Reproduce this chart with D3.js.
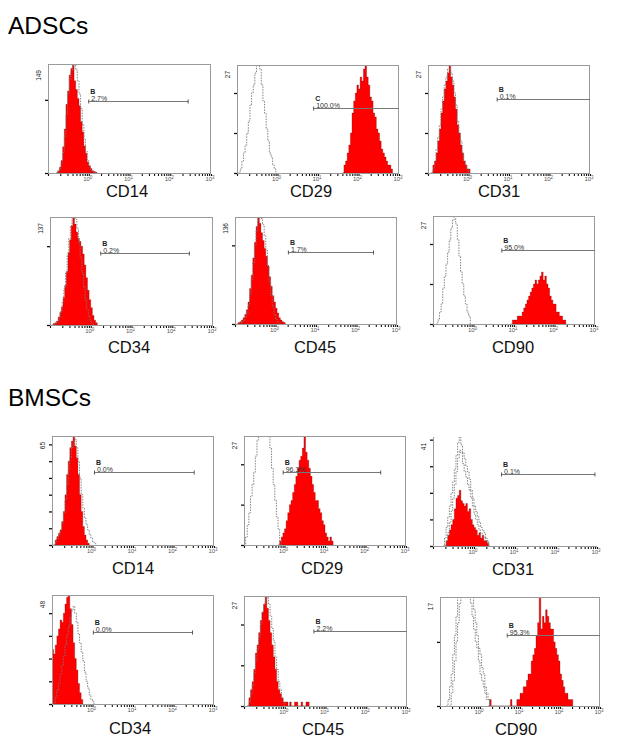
<!DOCTYPE html>
<html><head><meta charset="utf-8">
<script src="https://cdn.jsdelivr.net/npm/d3@7"></script>
<style>body{margin:0;background:#fff}svg{display:block;font-family:"Liberation Sans",Arial,sans-serif}</style>
</head><body><svg id="c" width="618" height="742"></svg>
<script>
// ---------------- DATA ----------------
const groups = ["ADSCs", "BMSCs"];
const markers = ["CD14", "CD29", "CD31", "CD34", "CD45", "CD90"];
const binLog = 0.04;                       // histogram bin width in log10 units
const xDecades = [1, 10, 100, 1000];
const xDecadeLabels = ["0", "1", "2", "3"];

const adscMax = [149, 27, 27, 137, 136, 27];
const bmscMax = [65, 27, 41, 48, 27, 17];

const adscGateName = ["B", "C", "B", "B", "B", "B"];
const bmscGateName = ["B", "B", "B", "B", "B", "B"];
const adscPercent = ["2.7%", "100.0%", "0.1%", "0.2%", "1.7%", "95.0%"];
const bmscPercent = ["0.0%", "96.3%", "0.1%", "0.0%", "2.2%", "95.3%"];
const adscGateFrom = [1, 7.8, 5.1, 1.76, 2.08, 5.0];
const adscGateTo = [275, 1000, 1000, 263, 263, 1000];
const adscGateLevel = [98, 16.2, 18.5, 91.4, 91, 18.4];
const bmscGateFrom = [1.12, 0.93, 4.7, 1.05, 5.2, 4.8];
const bmscGateTo = [324, 237, 890, 295, 1000, 1000];
const bmscGateLevel = [43.3, 18.1, 26.9, 31.9, 18.4, 11];

// stained sample histograms (red), first bin in log10 units + counts
const adscRedStart = [-0.80, 1.60, -0.92, -0.96, -0.96, 0.92];
const adscRed = [
  [0,3,8,17,36,60,94,112,134,143,149,126,114,102,92,70,56,37,27,15,10,6,3,2,1,0],
  [0,2,3,5,7,10,15,18,20,22,21,24,23,26,27,24,22,19,18,15,14,11,10,8,6,5,4,3,2,2,1,0],
  [0,2,3,5,8,11,15,18,21,23,25,27,24,22,19,16,12,10,7,5,3,2,1,1,0],
  [0,2,3,5,10,16,23,35,50,68,92,108,126,137,128,118,110,106,100,90,76,60,44,32,22,12,6,3,0],
  [0,2,3,5,8,12,18,28,45,62,84,104,124,136,128,116,106,96,86,74,60,48,36,28,20,14,8,5,3,2,0],
  [0,1,1,1,2,2,2,3,4,5,6,7,8,9,10,11,10,11,12,13,11,12,10,9,7,6,5,5,3,3,2,2,1,1,0]
];
const bmscRedStart = [-0.96, -0.16, -0.72, -1.00, -0.92, 0.20];
const bmscRed = [
  [0,3,5,7,9,14,20,30,42,50,58,62,65,59,52,42,30,20,11,6,3,1,0],
  [0,1,2,3,4,6,8,10,11,13,15,17,19,21,22,24,27,23,21,19,17,15,13,11,11,9,8,6,5,3,2,1,2,1,0],
  [0,2,4,6,8,10,14,18,19,21,17,16,15,16,13,14,10,8,7,6,4,5,3,4,2,2,1,0],
  [24,22,26,30,33,37,36,40,44,47,48,42,35,27,20,15,9,5,2,0],
  [0,2,4,6,9,13,15,18,21,23,25,27,24,21,18,15,12,9,6,4,3,2,1,1,1,0,1,0,0,1,1,0,0,1,0,0,1,1,0],
  [0,1,0,0,0,0,0,0,0,0,0,0,0,0,1,0,0,0,1,1,2,2,3,3,4,5,5,7,8,9,11,13,17,12,14,13,15,14,13,12,12,10,9,8,7,5,4,3,2,2,1,1,1,0]
];

// isotype control histograms (dashed outlines)
const adscIsoStart = [-0.80, -0.96, -0.92, -0.90, -0.88, -0.92];
const adscIso = [
  [0,2,6,14,28,50,80,108,128,140,147,149,141,126,108,88,66,46,30,18,10,5,2,1,0],
  [0,1,3,5,7,10,13,17,20,22,25,27,27,26,22,18,15,11,8,5,4,2,1,0],
  [0,1,3,6,9,12,16,19,22,24,26,26,25,23,20,17,13,10,8,5,3,2,1,0],
  [0,2,5,10,18,30,46,66,88,110,126,136,137,134,122,104,86,66,48,32,20,11,5,2,0],
  [0,2,4,8,14,24,38,56,78,100,118,130,136,134,126,112,94,74,54,36,22,12,6,3,1,0],
  [0,1,3,5,9,12,15,18,21,24,26,27,25,21,17,13,10,7,5,3,2,0]
];
const bmscIsoStart = [-0.96, -1.00, -0.76, -0.96, -0.92, -0.84];
const bmscIso = [
  [0,2,4,6,9,13,19,27,36,45,52,58,62,63,58,50,40,30,22,16,12,9,6,4,2,1,0],
  [0,2,5,8,12,15,18,22,26,29,31,32,33,32,30,28,24,19,15,11,7,4,1,0],
  [0,3,7,11,15,20,24,29,34,39,41,38,35,33,30,28,25,21,18,15,13,11,9,7,6,5,3,2,0],
  [0,3,6,9,13,17,21,26,30,34,38,41,43,40,36,31,27,23,19,14,10,7,4,2,1,0],
  [0,1,3,5,8,11,14,17,20,23,25,26,27,25,22,19,16,12,9,6,4,2,1,0],
  [0,1,3,5,8,11,14,17,19,20,21,21,20,19,18,16,14,12,10,9,7,5,4,3,2,1,1,0]
];
// second isotype replicate (only where a second dashed outline is visible)
const bmscIso2Start = [null, null, -0.72, null, null, -0.76];
const bmscIso2 = [
  null,
  null,
  [0,2,5,9,13,18,23,28,33,36,35,31,28,26,23,21,18,15,12,10,8,6,5,4,3,2,1,0],
  null,
  null,
  [0,2,4,7,10,13,16,18,20,21,22,21,20,19,17,15,13,11,9,8,6,5,3,2,1,0]
];

// ---------------- LAYOUT ----------------
const adscBoxes = [[48,64,211,173],[237,65,399,173],[428,65,590,173],
                   [50,217,213,325],[235,217,397,324],[433,216,595,324]];
const bmscBoxes = [[52,436,214,545],[244,436,406,545],[433,437,597,546],
                   [52,595,214,704],[244,596,407,706],[440,597,600,706]];
const adscLabelPos = [[127,197],[311,197],[499,197],[129,353],[315,353],[513,353]];
const bmscLabelPos = [[133,574],[322,574],[513,575],[130,734],[323,735],[516,735]];
const groupTitlePos = [[8,34],[8,406]];

const svg = d3.select("#c");
svg.append("rect").attr("width",618).attr("height",742).attr("fill","#fff");

groups.forEach((g,i)=>{
  svg.append("text").attr("x",groupTitlePos[i][0]).attr("y",groupTitlePos[i][1])
    .attr("font-size",24.5).attr("fill","#000").text(g);
});

const minorTicks = [];
[0.1,1,10,100].forEach(d=>{ for(let k=1;k<10;k++) minorTicks.push(d*k); });
minorTicks.push(1000);

let clipId = 0;
function panel(box, max, redStart, red, isoList, gName, pct, gFrom, gTo, gLevel, label, labelPos, fullFrame){
  const [L,T,R,B] = box;
  const x = d3.scaleLog().domain([0.1,1000]).range([L,R]);
  const y = d3.scaleLinear().domain([0,max]).range([B,T]);
  const g = svg.append("g");
  const id = "clip"+(clipId++);
  g.append("clipPath").attr("id",id).append("rect").attr("x",L).attr("y",T).attr("width",R-L).attr("height",B-T);
  const body = g.append("g").attr("clip-path",`url(#${id})`);

  const pts = (start, arr)=>arr.map((c,i)=>({v:Math.pow(10,start+i*binLog), c}));
  const area = d3.area().x(d=>x(d.v)).y0(y(0)).y1(d=>y(d.c)).curve(d3.curveStepAfter);
  const line = d3.line().x(d=>x(d.v)).y(d=>y(d.c)).curve(d3.curveStepAfter);

  body.append("path").attr("d",area(pts(redStart,red)))
    .attr("fill","#ff0000").attr("stroke","#5a0a0a").attr("stroke-width",0.4).attr("stroke-opacity",0.7);
  isoList.forEach(s=>{
    if(!s || !s[1]) return;
    body.append("path").attr("d",line(pts(s[0],s[1])))
      .attr("fill","none").attr("stroke","#777").attr("stroke-width",0.9).attr("stroke-dasharray","1.5,1.2");
  });

  // frame
  if(fullFrame){
    g.append("rect").attr("x",L+0.5).attr("y",T+0.5).attr("width",R-L-1).attr("height",B-T)
      .attr("fill","none").attr("stroke","#9a9a9a").attr("stroke-width",1);
  } else {
    g.append("path").attr("d",`M${L+0.5},${T}V${B+0.5}H${R}`).attr("fill","none").attr("stroke","#9a9a9a");
  }

  // y axis ticks
  const step = max > 100 ? 100 : 10;
  const yt = d3.range(0, max+0.001, step);
  const ya = g.append("g").attr("transform",`translate(${L},0)`)
    .call(d3.axisLeft(y).tickValues(yt).tickSize(3).tickFormat(""));
  ya.select(".domain").remove();
  ya.selectAll("line").attr("stroke","#111").attr("stroke-width",1.3);
  g.append("text").attr("transform",`translate(${L-7},${T+6}) rotate(-90)`)
    .attr("text-anchor","end").attr("font-size",6.5).attr("fill","#222").text(max);

  // x axis ticks
  const xa = g.append("g").attr("transform",`translate(0,${B+1})`)
    .call(d3.axisBottom(x).tickValues(minorTicks).tickSize(2).tickFormat(""));
  xa.select(".domain").remove();
  xa.selectAll("line").attr("stroke","#111").attr("stroke-width",1.1);
  xDecades.forEach((d,i)=>{
    const t = g.append("text").attr("x",x(d)-1).attr("y",B+8).attr("text-anchor","middle")
      .attr("font-size",6).attr("fill","#555").text("10");
    t.append("tspan").attr("dy",-2).attr("font-size",4.5).text(xDecadeLabels[i]);
  });

  // gate
  const gy = Math.round(y(gLevel))+0.5;
  const x0 = x(gFrom), x1 = x(gTo);
  g.append("line").attr("x1",x0).attr("x2",x1).attr("y1",gy).attr("y2",gy)
    .attr("stroke","#777").attr("stroke-width",1);
  g.append("line").attr("x1",x0).attr("x2",x0).attr("y1",gy-2).attr("y2",gy+2).attr("stroke","#555");
  if(gTo < 1000) g.append("line").attr("x1",x1).attr("x2",x1).attr("y1",gy-2).attr("y2",gy+2).attr("stroke","#555");
  g.append("text").attr("x",x0+1.5).attr("y",gy-7.5).attr("font-size",7).attr("font-weight","bold")
    .attr("fill","#222").text(gName);
  g.append("text").attr("x",x0+2.5).attr("y",gy-0.5).attr("font-size",7)
    .attr("fill","#333").text(pct);

  svg.append("text").attr("x",labelPos[0]).attr("y",labelPos[1]).attr("text-anchor","middle")
    .attr("font-size",16.5).attr("fill","#111").text(label);
}

markers.forEach((m,i)=>{
  panel(adscBoxes[i], adscMax[i], adscRedStart[i], adscRed[i], [[adscIsoStart[i], adscIso[i]]],
        adscGateName[i], adscPercent[i], adscGateFrom[i], adscGateTo[i], adscGateLevel[i],
        m, adscLabelPos[i], true);
});
markers.forEach((m,i)=>{
  panel(bmscBoxes[i], bmscMax[i], bmscRedStart[i], bmscRed[i],
        [[bmscIsoStart[i], bmscIso[i]], [bmscIso2Start[i], bmscIso2[i]]],
        bmscGateName[i], bmscPercent[i], bmscGateFrom[i], bmscGateTo[i], bmscGateLevel[i],
        m, bmscLabelPos[i], i !== 2);
});
</script></body></html>
